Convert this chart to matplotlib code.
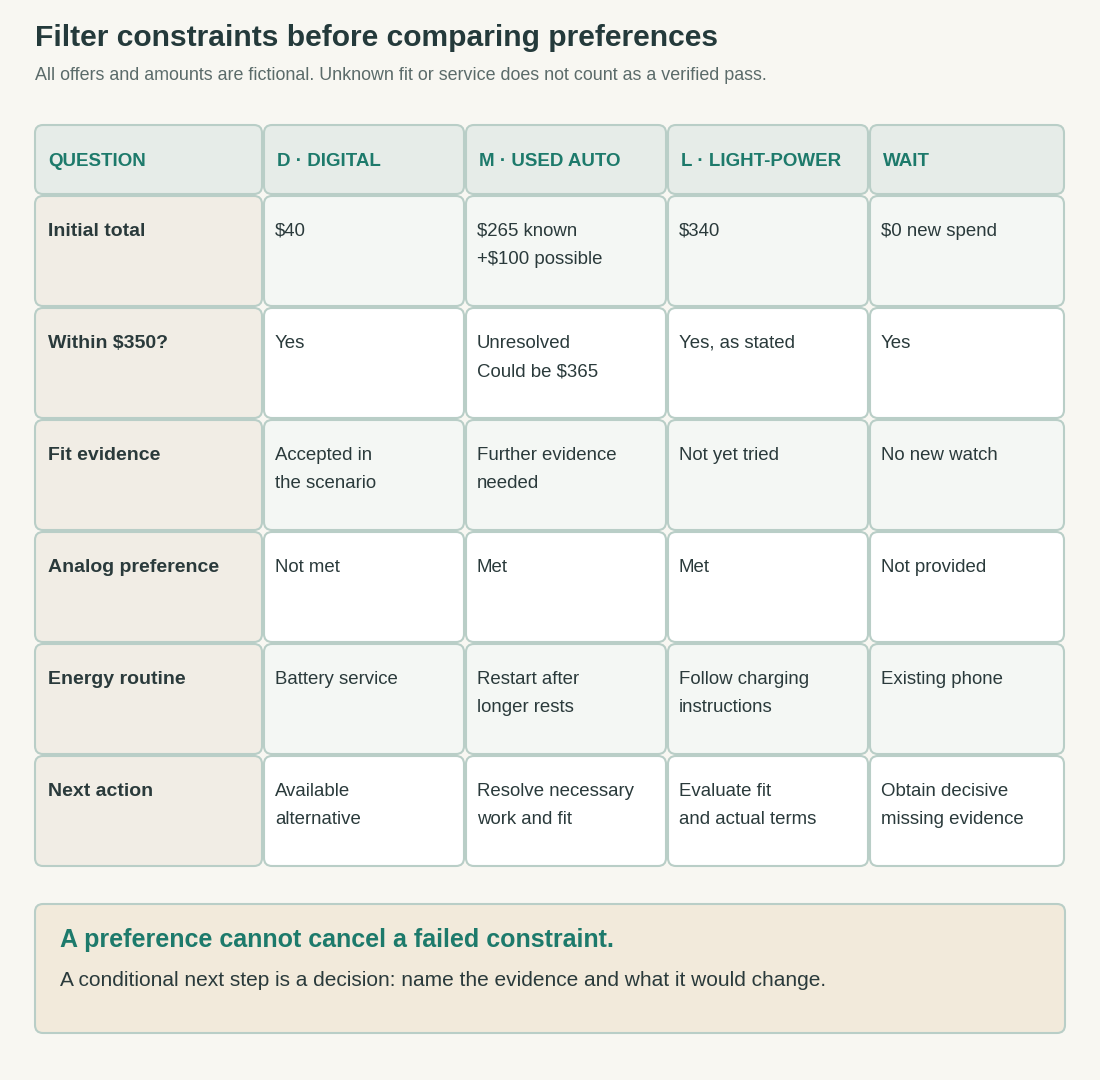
import matplotlib
matplotlib.use("Agg")
import matplotlib.pyplot as plt
from matplotlib.patches import FancyBboxPatch

plt.rcParams['font.family'] = ['Liberation Sans', 'DejaVu Sans']

title = "Filter constraints before comparing preferences"
subtitle = "All offers and amounts are fictional. Unknown fit or service does not count as a verified pass."
headers = ["QUESTION", "D · DIGITAL", "M · USED AUTO", "L · LIGHT-POWER", "WAIT"]
questions = ["Initial total", "Within $350?", "Fit evidence", "Analog preference",
             "Energy routine", "Next action"]
cells = [
    ["$40", "$265 known\n+$100 possible", "$340", "$0 new spend"],
    ["Yes", "Unresolved\nCould be $365", "Yes, as stated", "Yes"],
    ["Accepted in\nthe scenario", "Further evidence\nneeded", "Not yet tried", "No new watch"],
    ["Not met", "Met", "Met", "Not provided"],
    ["Battery service", "Restart after\nlonger rests", "Follow charging\ninstructions", "Existing phone"],
    ["Available\nalternative", "Resolve necessary\nwork and fit", "Evaluate fit\nand actual terms",
     "Obtain decisive\nmissing evidence"],
]
callout_title = "A preference cannot cancel a failed constraint."
callout_text = "A conditional next step is a decision: name the evidence and what it would change."

BG = "#f8f7f2"
BORDER = "#b9cec7"
TEAL = "#1d7a6b"
DARK = "#2a3a3b"

fig = plt.figure(figsize=(11, 10.8), dpi=100, facecolor=BG)
ax = fig.add_axes([0, 0, 1, 1])
ax.set_xlim(0, 1100)
ax.set_ylim(1080, 0)
ax.axis("off")


def box(x0, y0, x1, y1, fc, r=8):
    ax.add_patch(FancyBboxPatch((x0, y0), x1 - x0, y1 - y0,
                                boxstyle=f"round,pad=0,rounding_size={r}",
                                fc=fc, ec=BORDER, lw=1.5))


ax.text(35, 38, title, fontsize=21.6, fontweight="bold", color="#243a3b", va="center")
ax.text(35, 76, subtitle, fontsize=12.9, color="#5b6b6a", va="center")

col_x = [35, 264, 466, 668, 870, 1066]
head_y = (125, 194)
row_h = 112
row_top = 196

for j, h in enumerate(headers):
    box(col_x[j], head_y[0], col_x[j + 1] - 2, head_y[1], "#e6ece8")
    ax.text(col_x[j] + 13, 161, h, fontsize=13.5, fontweight="bold", color=TEAL, va="center")

for i, q in enumerate(questions):
    y0 = row_top + i * row_h
    y1 = y0 + row_h - 2
    box(col_x[0], y0, col_x[1] - 2, y1, "#f1ede5")
    ax.text(col_x[0] + 13, y0 + 35, q, fontsize=14, fontweight="bold", color=DARK, va="center")
    fill = "#f4f7f4" if i % 2 == 0 else "#ffffff"
    for j, txt in enumerate(cells[i]):
        box(col_x[j + 1], y0, col_x[j + 2] - 2, y1, fill)
        for k, line in enumerate(txt.split("\n")):
            ax.text(col_x[j + 1] + 11, y0 + 35 + 29 * k, line, fontsize=13.4,
                    color=DARK, va="center")

box(35, 904, 1065, 1033, "#f2eadb")
ax.text(60, 940, callout_title, fontsize=18, fontweight="bold", color=TEAL, va="center")
ax.text(60, 980, callout_text, fontsize=15, color=DARK, va="center")

fig.savefig("out.png", dpi=100, facecolor=BG)
